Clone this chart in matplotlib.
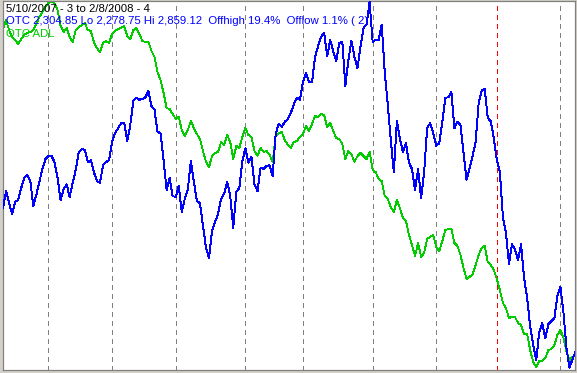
import matplotlib
matplotlib.use("Agg")
import matplotlib.pyplot as plt

# ---- data (trading days 5/10/2007 .. 2/8/2008) ----
otc = [2532, 2559, 2540, 2523, 2542, 2545, 2564, 2580, 2585, 2575,
       2536, 2553, 2574, 2594, 2610, 2615, 2615, 2605, 2580, 2545,
       2562, 2570, 2550, 2572, 2593, 2621, 2626, 2624, 2605, 2608,
       2589, 2575, 2572, 2600, 2605, 2608, 2637, 2651, 2659, 2667,
       2667, 2638, 2664, 2702, 2707, 2704, 2705, 2708, 2718, 2694,
       2688, 2653, 2651, 2608, 2561, 2580, 2551, 2550, 2567, 2526,
       2547, 2562, 2607, 2574, 2543, 2540, 2505, 2469, 2453, 2497,
       2510, 2523, 2547, 2555, 2574, 2551, 2501, 2558, 2564, 2607,
       2627, 2604, 2613, 2570, 2559, 2596, 2594, 2599, 2600, 2583,
       2650, 2666, 2661, 2669, 2673, 2683, 2697, 2707, 2704, 2732,
       2746, 2732, 2732, 2772, 2789, 2804, 2810, 2773, 2799, 2780,
       2765, 2794, 2796, 2726, 2767, 2797, 2772, 2754, 2788, 2818,
       2824, 2859, 2796, 2799, 2799, 2823, 2748, 2696, 2640, 2589,
       2670, 2642, 2621, 2635, 2604, 2594, 2561, 2594, 2548, 2589,
       2659, 2667, 2651, 2631, 2635, 2669, 2707, 2708, 2716, 2659,
       2669, 2664, 2621, 2577, 2596, 2615, 2637, 2699, 2719, 2721,
       2675, 2670, 2643, 2608, 2589, 2518, 2493, 2444, 2475, 2466,
       2450, 2475, 2421, 2390, 2344, 2315, 2291, 2336, 2350, 2326,
       2348, 2353, 2358, 2393, 2407, 2366, 2309, 2279, 2293, 2305]

adl = [341, 350, 340, 333, 330, 326, 331, 335, 337, 338,
       340, 346, 353, 358, 363, 367, 368, 367, 360, 344,
       338, 342, 333, 328, 340, 343, 345, 347, 340, 339,
       328, 322, 318, 327, 329, 327, 336, 339, 341, 342,
       344, 334, 331, 340, 342, 336, 329, 328, 328, 319,
       313, 298, 290, 277, 262, 261, 256, 251, 253, 240,
       234, 240, 249, 242, 236, 231, 219, 208, 203, 214,
       217, 218, 228, 225, 235, 228, 211, 224, 222, 233,
       242, 235, 233, 219, 214, 222, 218, 219, 215, 208,
       234, 237, 238, 230, 225, 222, 228, 229, 233, 236,
       244, 239, 246, 254, 253, 256, 255, 243, 247, 239,
       232, 231, 226, 211, 219, 216, 208, 214, 217, 214,
       211, 218, 200, 198, 191, 189, 174, 171, 163, 158,
       170, 162, 152, 149, 135, 125, 114, 127, 113, 117,
       131, 133, 135, 123, 119, 129, 140, 141, 141, 127,
       124, 115, 102, 91, 93, 96, 105, 115, 122, 124,
       108, 105, 100, 91, 80, 67, 62, 52, 53, 53,
       47, 45, 36, 36, 20, 8, 3, 9, 9, 12,
       20, 21, 25, 35, 40, 32, 18, 10, 13, 15]

month_starts = [15, 36, 57, 80, 99, 122, 143, 163, 184]  # first trading day of Jun..Feb
year_start = 163  # 1/2/2008

title_line = "5/10/2007 - 3 to 2/8/2008 - 4"
otc_line = "OTC 2,304.85 Lo 2,278.75 Hi 2,859.12  Offhigh 19.4%  Offlow 1.1% ( 2)"
adl_line = "OTC ADL"

# ---- figure ----
W, H = 577, 373
fig = plt.figure(figsize=(W / 100, H / 100), dpi=100)
fig.patch.set_facecolor("#d4d0c8")

left_px, right_px, top_px, bot_px = 2.5, 575.0, 1.0, 370.0
ax = fig.add_axes([left_px / W, 1 - bot_px / H, (right_px - left_px) / W, (bot_px - top_px) / H])
ax.set_facecolor("white")
ax2 = ax.twinx()

days = list(range(len(otc)))

for m in month_starts:
    col = "#ff0000" if m == year_start else "#808080"
    ax.axvline(m, color=col, lw=0.75, dashes=(4, 4), antialiased=False, zorder=1)

ax.plot(days, adl, color="#00cc00", lw=0.6, antialiased=False, zorder=2)
ax2.plot(days, otc, color="#0000ff", lw=0.7, antialiased=False, zorder=3)

ax.set_xlim(-0.17, 188.8)
ax.set_ylim(0, 369)
ax2.set_ylim(2275.4, 2860.6)

for a in (ax, ax2):
    a.set_xticks([])
    a.set_yticks([])
    for s in a.spines.values():
        s.set_color("#808080")
        s.set_linewidth(0.8)

fam = ["Liberation Sans", "DejaVu Sans"]
fig.text(6 / W, 1 - 8.5 / H, title_line, color="black", fontsize=8.2, family=fam, va="center", ha="left")
fig.text(6 / W, 1 - 21.5 / H, otc_line, color="#0000ff", fontsize=8.2, family=fam, va="center", ha="left")
fig.text(6 / W, 1 - 34 / H, adl_line, color="#00cc00", fontsize=8.2, family=fam, va="center", ha="left")

fig.savefig("out.png", dpi=100, facecolor=fig.get_facecolor())
